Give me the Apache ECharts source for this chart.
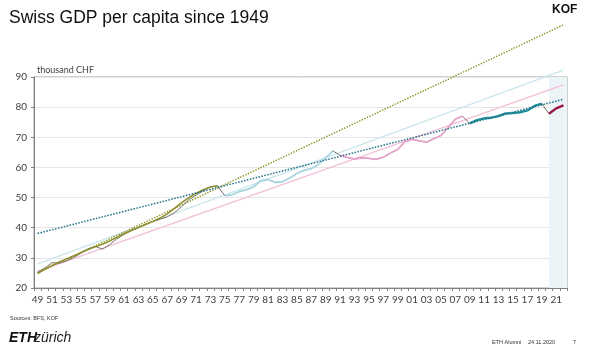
<!DOCTYPE html>
<html><head><meta charset="utf-8">
<script src="https://cdn.jsdelivr.net/npm/echarts@6/dist/echarts.min.js"></script>
<style>html,body{margin:0;padding:0;background:#fff;}#c{width:600px;height:352px;}</style>
</head><body><div id="c"></div>
<script>
// ---- data ----
const years = [];
for (let y = 1949; y <= 2022; y++) years.push(String(y));

// GDP per capita, thousand CHF
const actual = [25.3,26.6,28.4,28.2,29.0,30.1,31.5,33.0,33.8,32.9,34.4,36.3,37.8,39.0,40.0,41.2,42.0,42.8,43.6,45.0,47.0,49.3,50.8,52.3,53.6,53.8,
  50.6,50.9,52.0,52.6,53.6,55.6,56.0,55.0,55.3,56.5,58.0,59.0,59.6,61.0,63.2,65.5,
  64.0,63.3,62.8,63.2,63.0,62.7,63.4,64.8,66.0,68.5,69.3,68.8,68.4,69.5,70.6,73.2,76.0,77.0,
  74.6,75.7,76.3,76.5,77.0,77.9,78.0,78.3,78.9,80.4,81.2,
  77.8,79.6,80.6];
// period 1949-1974 (olive)
const period1Years = years.slice(0, 26);
const period1 = [24.8,26.2,27.5,28.6,29.6,30.6,31.7,32.8,33.7,34.5,35.6,36.8,38.0,39.1,40.1,41.1,42.1,43.2,44.6,46.4,48.3,50.0,51.4,52.6,53.5,53.9];
// period 1975-1990 (light blue)
const period2Years = years.slice(26, 42);
const period2 = actual.slice(26, 42);
// period 1991-2008 (pink)
const period3Years = years.slice(42, 60);
const period3 = actual.slice(42, 60);
// period 2009-2019 (teal)
const period4Years = years.slice(60, 71);
const period4 = actual.slice(60, 71);
// 2020-2022 (forecast, dark red)
const period5Years = years.slice(71);
const period5 = actual.slice(71);

// trend lines: [start value 1949, end value 2022]
const trendOlive = [25.0, 107.3];
const trendCyan = [28.0, 92.3];
const trendPink = [25.5, 87.4];
const trendTeal = [38.1, 82.6];

// forecast shading range (years)
const forecastRange = [2020, 2022.5];

const yTicks = [20, 30, 40, 50, 60, 70, 80, 90];

function pairs(cats, vals) { return cats.map((c, i) => [c, vals[i]]); }
function trend(v) { return [[years[0], v[0]], [years[years.length - 1], v[1]]]; }

const chart = echarts.init(document.getElementById('c'), null, {renderer: 'canvas'});
const base = {type: 'line', symbol: 'none', silent: true, animation: false};
chart.setOption({
  animation: false,
  grid: {left: 34, right: 33, top: 77, bottom: 64, show: true, borderColor: '#a0a0a0', borderWidth: 1, backgroundColor: 'transparent'},
  xAxis: [{
    type: 'category', data: years, boundaryGap: true,
    axisLine: {lineStyle: {color: '#7f7f7f', width: 1}},
    axisTick: {show: true, interval: 0, length: 3, lineStyle: {color: '#7f7f7f'}},
    axisLabel: {interval: 1, formatter: v => v.slice(2), fontFamily: 'Lato', fontSize: 10, color: '#404040', margin: 7},
    splitLine: {show: false}
  }, {
    type: 'value', show: false, min: Number(years[0]) - 0.5, max: Number(years[years.length - 1]) + 0.5,
    splitLine: {show: false}
  }],
  yAxis: {
    type: 'value', min: yTicks[0], max: yTicks[yTicks.length - 1], interval: 10,
    axisLine: {show: true, lineStyle: {color: '#7f7f7f'}},
    axisTick: {show: true, length: 3, lineStyle: {color: '#7f7f7f'}},
    axisLabel: {fontFamily: 'Lato', fontSize: 10, color: '#404040', margin: 7},
    splitLine: {lineStyle: {color: '#e6e6e6', width: 1}}
  },
  series: [
    Object.assign({}, base, {name: 'shade', xAxisIndex: 1, data: [], z: 0,
      markArea: {silent: true, itemStyle: {color: '#ecf4f8'}, data: [[{xAxis: forecastRange[0]}, {xAxis: forecastRange[1]}]]}}),
    Object.assign({}, base, {name: 'trendPink', data: trend(trendPink), clip: false, z: 2,
      lineStyle: {color: '#f2bfd9', width: 1.3}}),
    Object.assign({}, base, {name: 'trendCyan', data: trend(trendCyan), clip: false, z: 2,
      lineStyle: {color: '#c9e6ec', width: 1.3}}),
    Object.assign({}, base, {name: 'trendOlive', data: trend(trendOlive), clip: false, z: 3,
      lineStyle: {color: '#8f8f22', width: 1.4, type: 'dotted'}}),
    Object.assign({}, base, {name: 'actual', data: actual, z: 4,
      lineStyle: {color: '#7a7064', width: 1}}),
    Object.assign({}, base, {name: 'p1', data: pairs(period1Years, period1), z: 5,
      lineStyle: {color: '#8f9030', width: 1.6}}),
    Object.assign({}, base, {name: 'p2', data: pairs(period2Years, period2), z: 5,
      lineStyle: {color: '#a9d8e2', width: 1.8}}),
    Object.assign({}, base, {name: 'p3', data: pairs(period3Years, period3), z: 5,
      lineStyle: {color: '#e6a6cb', width: 1.8}}),
    Object.assign({}, base, {name: 'p4', data: pairs(period4Years, period4), z: 5,
      lineStyle: {color: '#1f8d9a', width: 2.4}}),
    Object.assign({}, base, {name: 'p5', data: pairs(period5Years, period5), z: 5,
      lineStyle: {color: '#991447', width: 2.4}}),
    Object.assign({}, base, {name: 'trendTeal', data: trend(trendTeal), clip: false, z: 6,
      lineStyle: {color: '#1d6e86', width: 1.5, type: 'dotted'}})
  ],
  graphic: [
    {type: 'text', left: 9, top: 9, style: {text: 'Swiss GDP per capita since 1949', font: '17.5px "Liberation Sans"', fill: '#111'}},
    {type: 'text', left: 552, top: 4, style: {text: 'KOF', font: 'bold 12px "Liberation Sans"', fill: '#111'}},
    {type: 'text', left: 37, top: 66, style: {text: 'thousand CHF', font: '9px Lato', fill: '#404040'}},
    {type: 'text', left: 10, top: 315, style: {text: 'Sources: BFS, KOF', font: '5.5px "Liberation Sans"', fill: '#333'}},
    {type: 'text', left: 9, top: 331, style: {text: 'ETH', font: 'italic bold 14px "Liberation Sans"', fill: '#111'}},
    {type: 'text', left: 34, top: 331, style: {text: 'zürich', font: 'italic 14px "Liberation Sans"', fill: '#222'}},
    {type: 'text', left: 492, top: 339, style: {text: 'ETH Alumni', font: '5.5px "Liberation Sans"', fill: '#333'}},
    {type: 'text', left: 528, top: 339, style: {text: '24.11.2020', font: '5.5px "Liberation Sans"', fill: '#333'}},
    {type: 'text', left: 573, top: 339, style: {text: '7', font: '5.5px "Liberation Sans"', fill: '#333'}}
  ]
});
</script></body></html>
